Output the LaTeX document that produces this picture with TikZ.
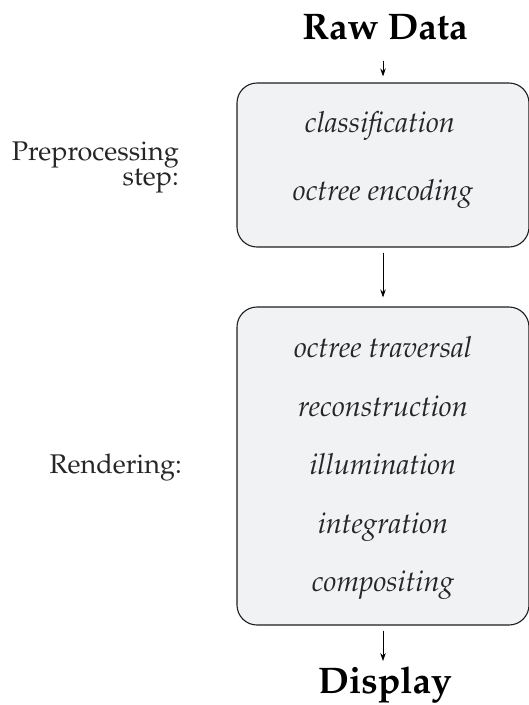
\documentclass[tikz,border=0pt]{standalone}
\usepackage[T1]{fontenc}
\usepackage{mathpazo}
\usetikzlibrary{arrows.meta}
\definecolor{boxfill}{RGB}{241,242,244}
\definecolor{boxline}{RGB}{30,30,30}
\begin{document}
\begin{tikzpicture}[x=1pt,y=-1pt,
  stage/.style={draw=boxline, line width=1.1pt, fill=boxfill, rounded corners=20pt, inner sep=0},
  item/.style={font=\fontsize{29}{34}\selectfont\itshape, anchor=base, inner sep=0, text=black!85},
  title/.style={font=\fontsize{37}{44}\selectfont\bfseries, anchor=base, inner sep=0},
  lab/.style={font=\fontsize{27}{21}\selectfont, inner sep=0, text=black!85, align=right},
  flow/.style={-{Stealth[length=8pt,width=5.5pt]}, line width=0.8pt}]
\useasboundingbox (0,0) rectangle (529,705);
% boxes
\node[stage, minimum width=292pt, minimum height=164pt] (pre) at (383,165) {};
\node[stage, minimum width=292pt, minimum height=318pt] (ren) at (383,466) {};
% titles
\node[title] (raw) at (385,39) {Raw Data};
\node[title] (disp) at (385,693) {Display};
% items
\node[item] (cls) at (380,132) {classification};
\node[item] (enc) at (383,200) {octree encoding};
\node[item] (trav) at (383,357) {octree traversal};
\node[item] (rec) at (383,416) {reconstruction};
\node[item] (ill) at (383,474) {illumination};
\node[item] (int) at (383,533) {integration};
\node[item] (comp) at (383,591) {compositing};
% labels
\node[lab, anchor=east] (l1) at (179,167) {Preprocessing\\step:};
\node[lab, anchor=base east] (l2) at (182,473) {Rendering:};
% arrows
\draw[flow, shorten <=21pt, shorten >=6pt] (raw.south -| pre.north) -- (pre.north);
\draw[flow, shorten <=5pt, shorten >=9pt] (pre.south) -- (ren.north);
\draw[flow, shorten <=5pt, shorten >=5pt] (ren.south) -- (disp.north -| ren.south);
\end{tikzpicture}
\end{document}
